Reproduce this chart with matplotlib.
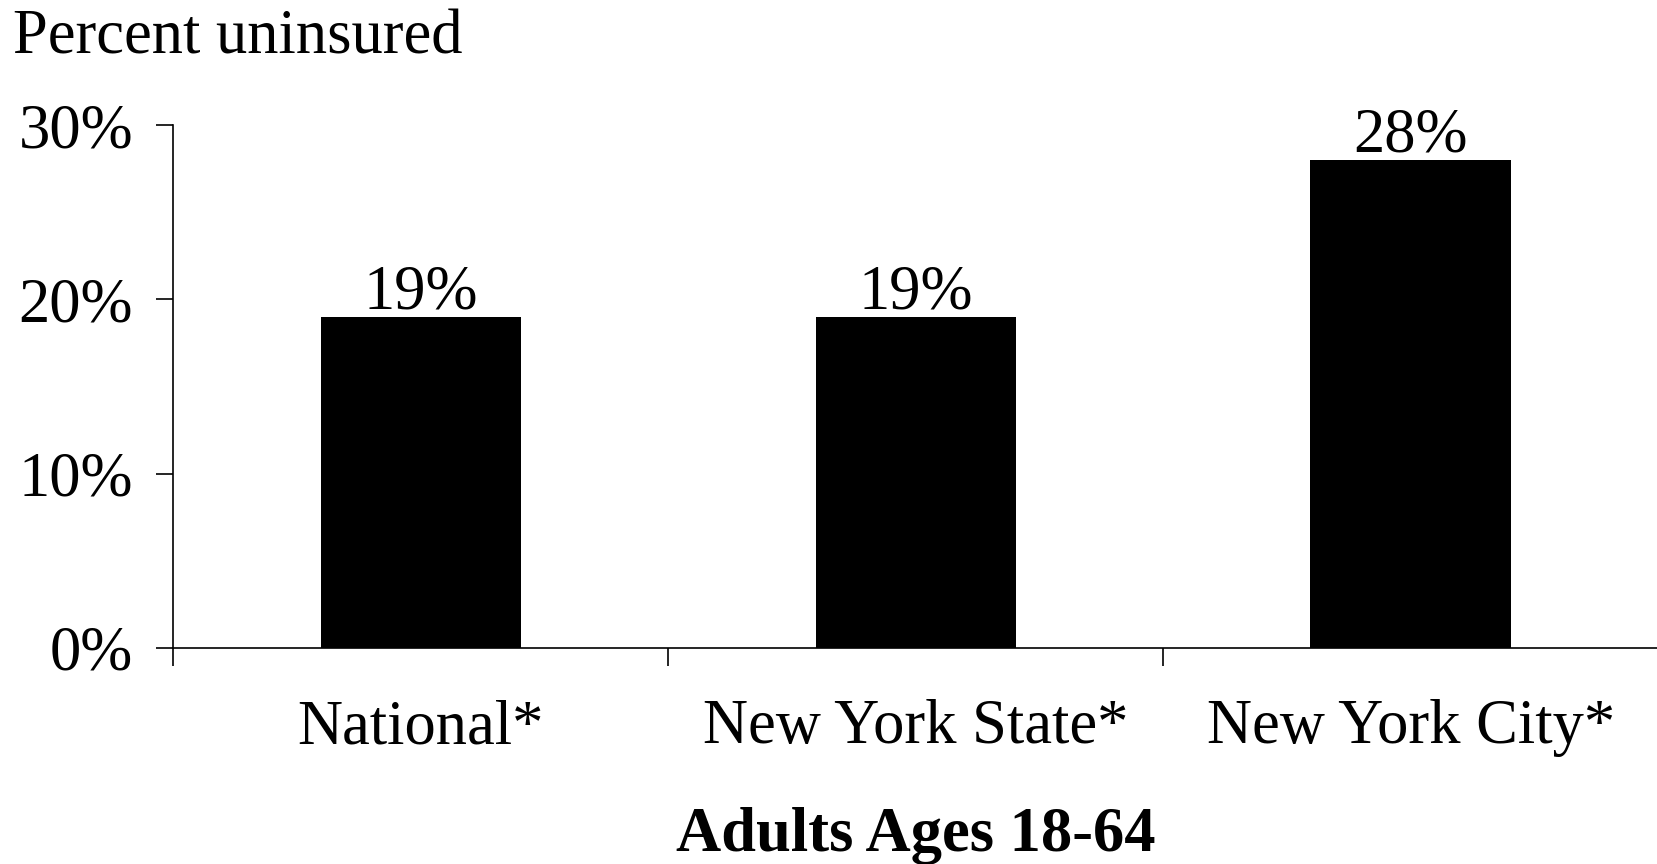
import numpy as np
import matplotlib.pyplot as plt

# data
categories = ['National*', 'New York State*', 'New York City*']
uninsured = [0.19, 0.19, 0.28]
value_labels = ['19%', '19%', '28%']
yticks = [0.0, 0.1, 0.2, 0.3]
ytick_labels = ['0%', '10%', '20%', '30%']

plt.rcParams['font.family'] = ['Liberation Serif', 'DejaVu Serif']

fig = plt.figure(figsize=(16.58, 8.64), dpi=100)
ax = fig.add_axes([0.1046, 0.25, 0.8954, 0.6053])

x = np.arange(len(categories))
bars = ax.bar(x, uninsured, width=0.405, color='black')

for b, lab in zip(bars, value_labels):
    ax.annotate(lab, (b.get_x() + b.get_width() / 2, b.get_height()),
                xytext=(0, 6), textcoords='offset points',
                ha='center', va='baseline', fontsize=45)

ax.set_xlim(-0.5, 2.5)
ax.set_ylim(0, 0.3)
ax.set_yticks(yticks)
ax.set_yticklabels(ytick_labels)

# category ticks sit on the boundaries, labels in the middle
ax.set_xticks([-0.5, 0.5, 1.5, 2.5])
ax.set_xticklabels([])
ax.set_xticks(x, minor=True)
ax.set_xticklabels(categories, minor=True)
ax.tick_params(axis='x', which='minor', length=0, pad=37, labelsize=45)
ax.tick_params(axis='x', which='major', direction='out', length=13, width=1.2)
ax.tick_params(axis='y', direction='out', length=12, width=1.2, pad=17, labelsize=45)

for s in ['top', 'right']:
    ax.spines[s].set_visible(False)
for s in ['left', 'bottom']:
    ax.spines[s].set_linewidth(1.2)

ax.set_xlabel('Adults Ages 18-64', fontsize=45, fontweight='bold', labelpad=36)

fig.text(0.008, 1 - 53 / 864, 'Percent uninsured', fontsize=45, va='baseline', ha='left')

fig.savefig('out.png', dpi=100)
